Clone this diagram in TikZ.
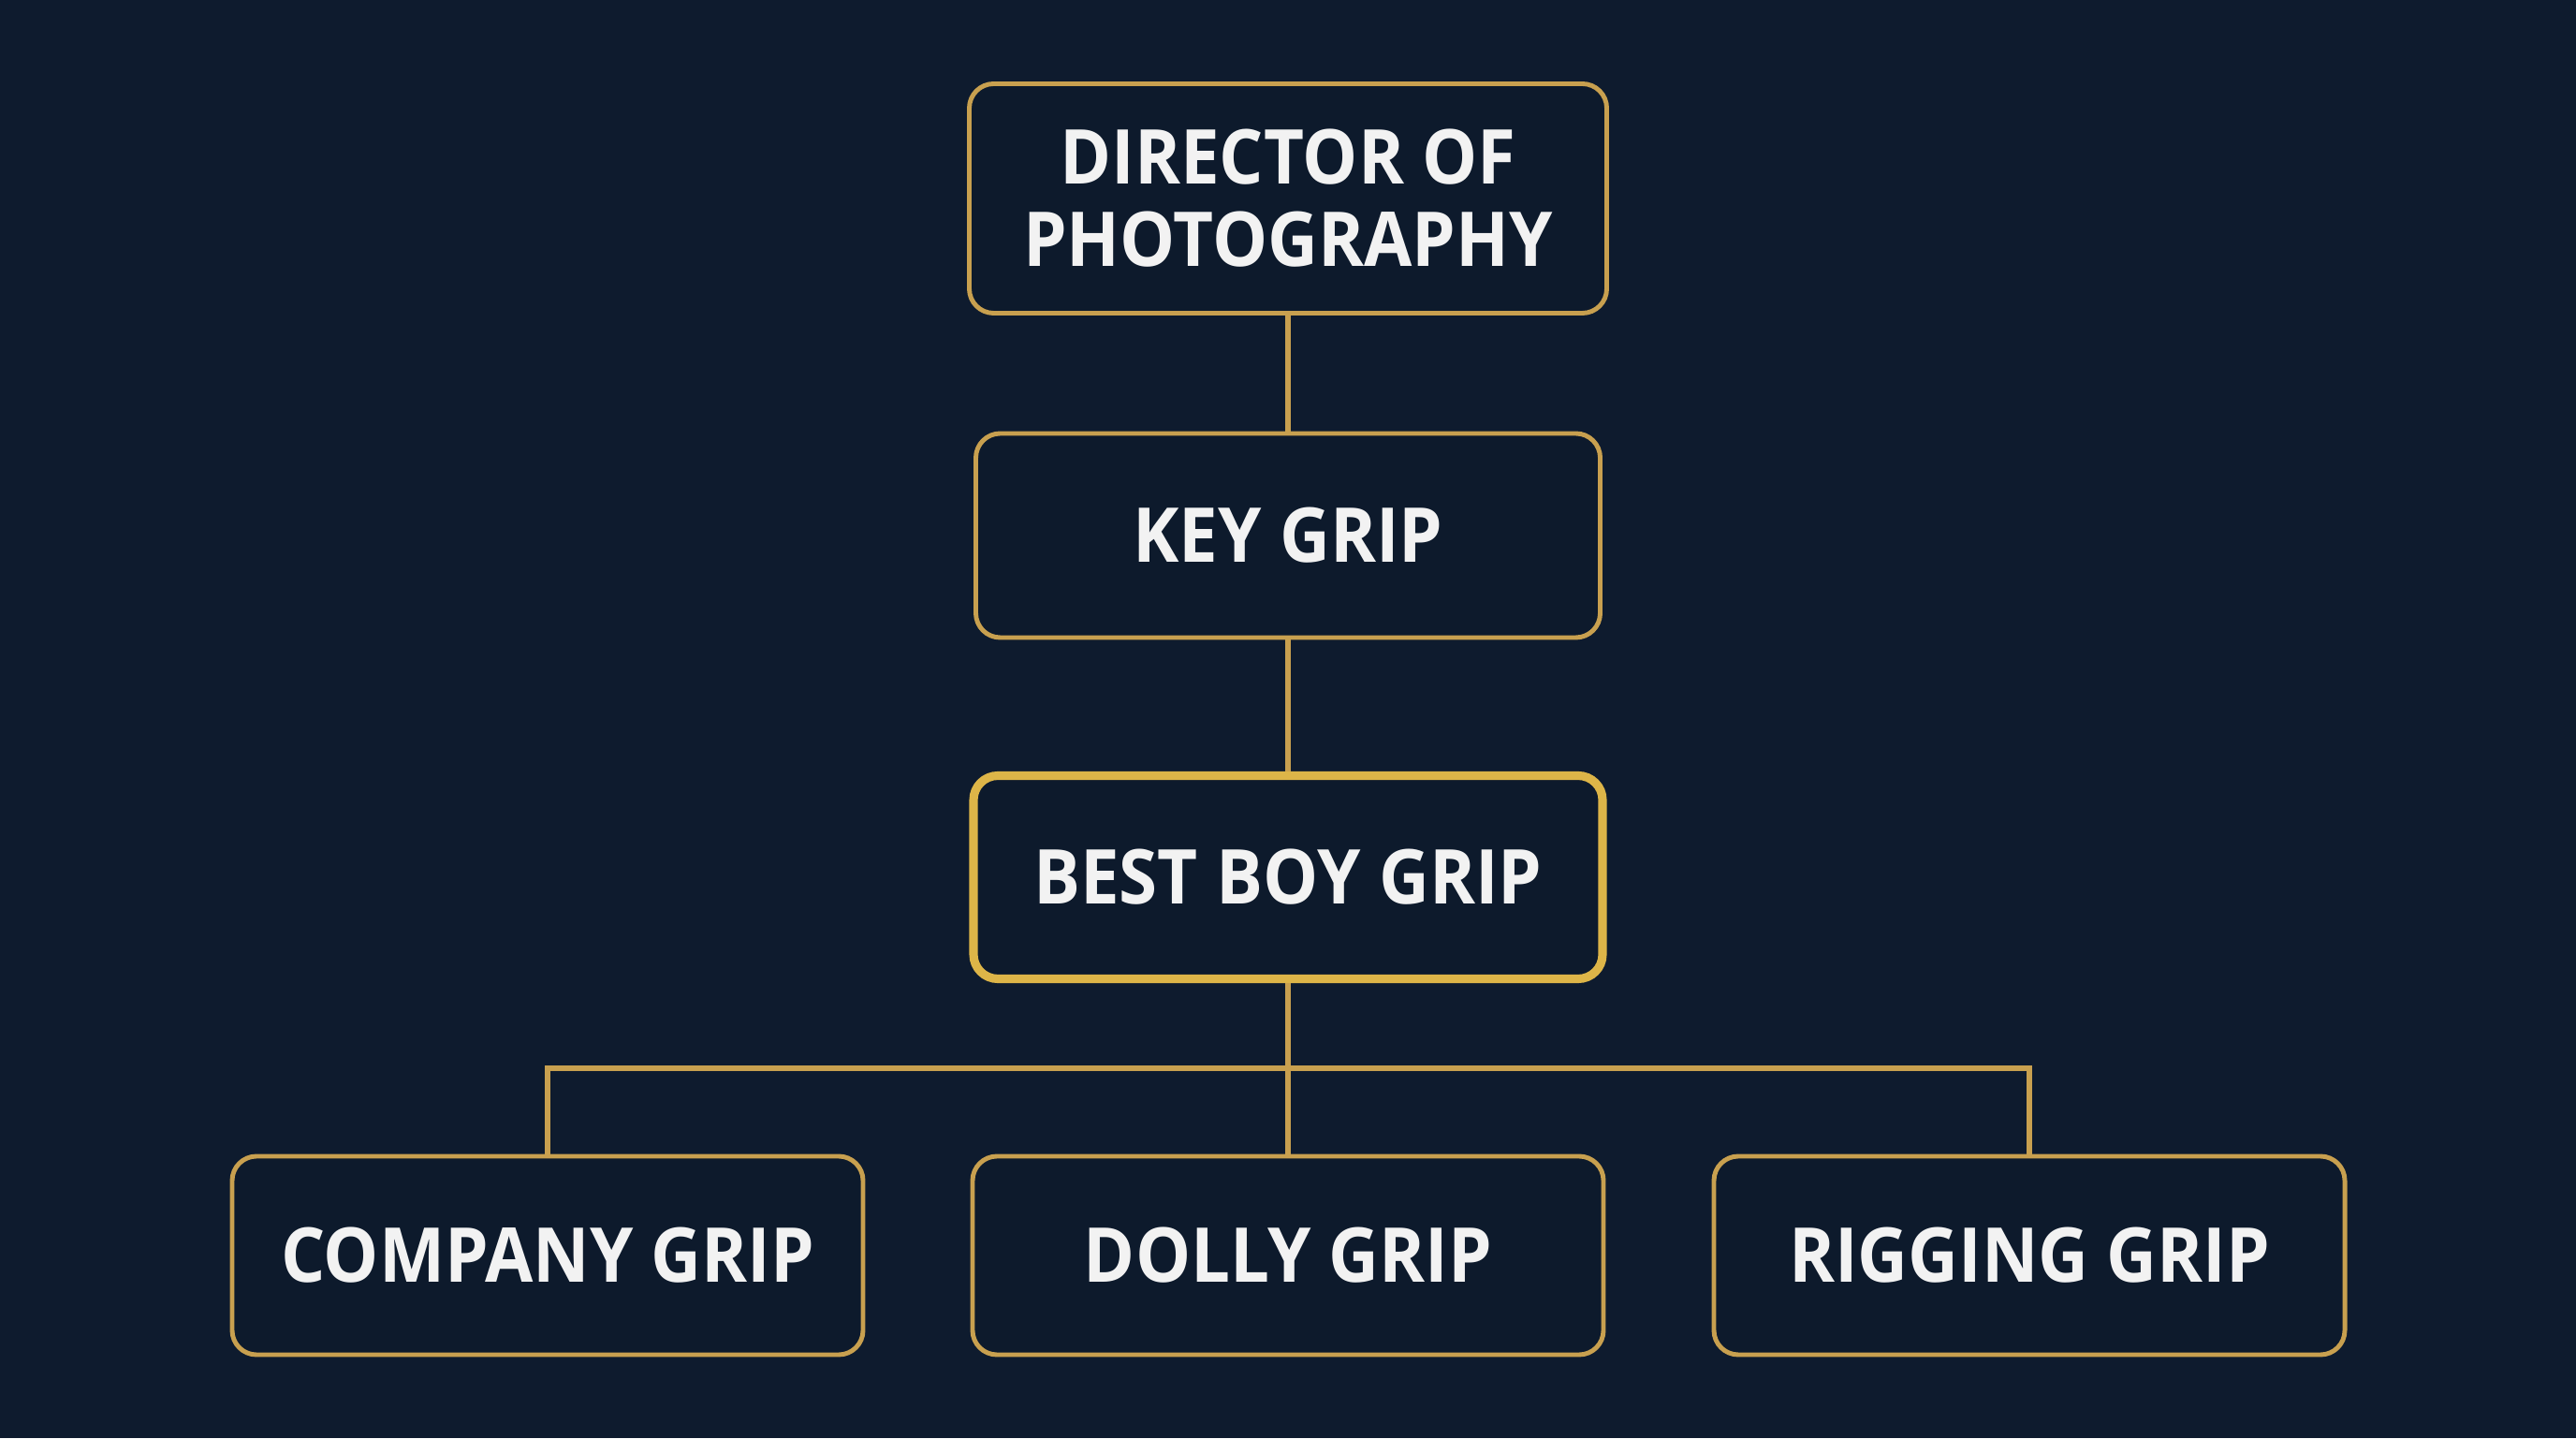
\documentclass[tikz,border=0pt]{standalone}
\usepackage{fontspec}
\newfontfamily\gripfont{Open Sans}[FakeStretch=0.92]
\usepackage{tikz}
\usetikzlibrary{calc,positioning}
\definecolor{navy}{HTML}{0E1B2E}
\definecolor{boxnavy}{HTML}{0D1A2C}
\definecolor{gold}{HTML}{C8A04F}
\definecolor{brightgold}{HTML}{DDB548}
\tikzset{
	semithick,
	link/.style = {draw=gold, line width=1.5pt}
}

\begin{document}
\begin{tikzpicture}[node distance=3.6cm]
		\tikzstyle{crew} = [draw=gold, fill=boxnavy, line width=1.4pt, rectangle,
		rounded corners=0.26cm, text=white!95!black, align=center,
		font=\gripfont\bfseries\fontsize{23}{25}\selectfont,
		minimum width=6.74cm, minimum height=2.12cm]
		\tikzstyle{lead} = [crew, draw=brightgold, line width=2.6pt]
		\fill[navy] (0,0) rectangle (27.52,15.36);
		\useasboundingbox (0,0) rectangle (27.52,15.36);
		\path
		node[crew, minimum width=6.81cm, minimum height=2.45cm] (dop) at (13.76,13.24) {DIRECTOR OF\\PHOTOGRAPHY}
		node[crew, minimum width=6.67cm, minimum height=2.18cm, below of=dop] (key) {KEY GRIP}
		node[lead, minimum width=6.72cm, minimum height=2.17cm, below of=key, node distance=3.65cm] (best) {BEST BOY GRIP}
		node[crew, below of=best, node distance=4.04cm] (dolly) {DOLLY GRIP}
		node[crew, left of=dolly, node distance=7.91cm] (company) {COMPANY GRIP}
		node[crew, right of=dolly, node distance=7.92cm] (rigging) {RIGGING GRIP};
%		bus between best boy and the three grips
		\coordinate (bus) at ($(best.south |- 0,3.95)$);
		\path[link]
		(dop) edge (key)
		(key) edge (best)
		(best) edge (dolly);
		\draw[link] (company) |- (bus) -| (rigging);
	    \end{tikzpicture}
\end{document}
